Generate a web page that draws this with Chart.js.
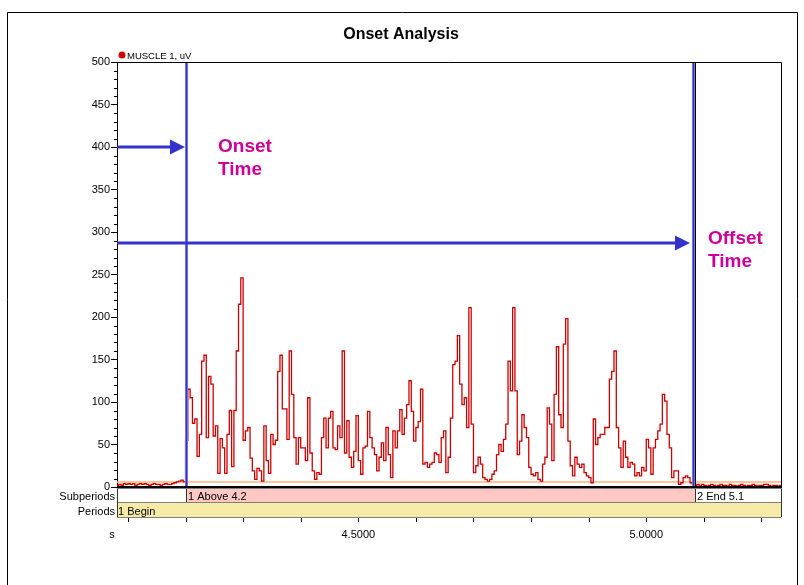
<!DOCTYPE html>
<html><head><meta charset="utf-8">
<script src="https://cdn.jsdelivr.net/npm/chart.js@4/dist/chart.umd.min.js"></script>
<style>html,body{margin:0;padding:0;background:#fff}#wrap{width:804px;height:585px;position:relative}</style>
</head><body><div id="wrap"><canvas id="c" width="804" height="585"></canvas></div>
<script>
const chartTitle = 'Onset Analysis';
const seriesName = 'MUSCLE 1, uV';
const startTime = 4.080;
const sampleStep = 0.004;
const emgValues = [
  2,3,2,4,3,4,3,4,2,3,4,3,4,3,2,3,4,3,3,2,3,4,3,3,4,5,6,7,8,6,
  55,115,105,75,80,36,62,148,155,58,130,121,60,72,16,57,46,16,62,90,
  24,90,160,215,246,55,66,70,34,19,9,22,19,7,72,31,16,62,50,55,
  136,155,92,92,56,160,109,58,27,58,46,46,31,105,40,19,9,17,15,58,
  81,46,81,89,46,44,72,58,160,40,78,35,23,42,84,31,15,46,48,89,
  58,46,38,19,35,52,31,70,38,11,66,46,66,91,62,81,97,125,89,54,
  70,77,115,27,29,23,27,29,40,38,29,58,66,17,35,81,144,148,178,121,
  97,105,70,211,74,17,25,35,27,11,9,7,9,15,19,38,50,42,56,74,
  148,113,211,113,38,54,85,70,58,23,15,13,17,9,7,27,35,93,74,31,
  109,165,85,70,168,198,54,25,13,35,27,23,27,17,13,11,5,80,50,58,
  62,62,70,70,127,136,160,70,46,23,54,35,23,29,27,13,17,13,23,19,
  56,46,15,46,56,66,74,109,101,62,46,11,19,19,3,5,11,13,11,5,
  3,2,3,1,3,2,1,2,3,2,1,2,3,2,2,1,3,2,2,1,2,3,2,1,2,2,3,2,1,2,
  2,3,3,2,1,2,2,1,2,2
];
const thresholdValue = 6;
const onsetTime = 4.2;
const offsetTime = 5.081;
const onsetArrowLevel = 400;
const offsetArrowLevel = 287;
const xMin = 4.081;
const xMax = 5.234;
const yMin = 0, yMax = 500, yStep = 50, yMinorStep = 10;
const xTickValues = [4.1,4.2,4.3,4.4,4.5,4.6,4.7,4.8,4.9,5.0,5.1,5.2];
const xLabelValues = [4.5, 5.0];
const xUnit = 's';
const subperiodLabels = ['1 Above 4.2', '2 End 5.1'];
const periodLabels = ['1 Begin'];
const onsetText = ['Onset', 'Time'];
const offsetText = ['Offset', 'Time'];

const points = emgValues.map((v, i) => ({ x: startTime + i * sampleStep, y: v }));
const thresholdLine = [{ x: xMin, y: thresholdValue }, { x: xMax, y: thresholdValue }];

const BLUE = '#3333CC', MAG = '#CC0099', RED = '#CC0000';

const deco = {
  id: 'deco',
  beforeDraw(chart) {
    const c = chart.ctx;
    c.save();
    c.fillStyle = '#fff';
    c.fillRect(0, 0, chart.width, chart.height);
    c.strokeStyle = '#000'; c.lineWidth = 1;
    c.beginPath();
    c.moveTo(7.5, 600); c.lineTo(7.5, 12.5); c.lineTo(797.5, 12.5); c.lineTo(797.5, 600);
    c.stroke();
    c.restore();
  },
  afterDatasetsDraw(chart) {
    const c = chart.ctx, a = chart.chartArea;
    const xs = chart.scales.x, ys = chart.scales.y;
    const on = Math.round(xs.getPixelForValue(onsetTime));
    const off = Math.round(xs.getPixelForValue(offsetTime));
    c.save();
    [on, off].forEach(px => {
      c.fillStyle = '#B4B4EE';
      c.fillRect(px - 1, a.top, 3, a.bottom - a.top);
      c.fillStyle = BLUE;
      c.fillRect(px - 0.5, a.top, 2, a.bottom - a.top);
    });
    c.fillStyle = '#000';
    c.fillRect(off + 2, a.top, 1, a.bottom - a.top);
    const arrow = (x0, x1, y) => {
      c.strokeStyle = BLUE; c.fillStyle = BLUE; c.lineWidth = 3;
      c.beginPath(); c.moveTo(x0, y); c.lineTo(x1 - 12, y); c.stroke();
      c.beginPath(); c.moveTo(x1, y); c.lineTo(x1 - 15, y - 7.5); c.lineTo(x1 - 15, y + 7.5); c.closePath(); c.fill();
    };
    arrow(a.left, on - 1, ys.getPixelForValue(onsetArrowLevel));
    arrow(a.left, off - 3, ys.getPixelForValue(offsetArrowLevel));
    c.fillStyle = MAG; c.font = 'bold 19px Arial, "Liberation Sans", sans-serif';
    c.textAlign = 'left'; c.textBaseline = 'alphabetic';
    c.fillText(onsetText[0], on + 32, 152);
    c.fillText(onsetText[1], on + 32, 175);
    c.fillText(offsetText[0], off + 15, 244);
    c.fillText(offsetText[1], off + 15, 267);
    c.restore();
  },
  afterDraw(chart) {
    const c = chart.ctx, a = chart.chartArea;
    const xs = chart.scales.x, ys = chart.scales.y;
    const on = Math.round(xs.getPixelForValue(onsetTime));
    const off = Math.round(xs.getPixelForValue(offsetTime));
    c.save();
    c.strokeStyle = '#000'; c.lineWidth = 1;
    c.beginPath();
    c.moveTo(a.left, a.top + 0.5); c.lineTo(a.right + 0.5, a.top + 0.5); c.lineTo(a.right + 0.5, a.bottom);
    c.stroke();
    c.fillStyle = '#000';
    c.fillRect(a.left, a.bottom - 1, a.right - a.left + 1, 2.5);
    c.beginPath();
    for (let v = yMin; v <= yMax; v += yMinorStep) {
      if (v % yStep === 0) continue;
      const y = Math.round(ys.getPixelForValue(v)) + 0.5;
      c.moveTo(a.left - 3, y); c.lineTo(a.left, y);
    }
    c.stroke();
    const sTop = a.bottom + 2, sH = 13, pTop = a.bottom + 16, pH = 14;
    c.fillStyle = '#fff'; c.fillRect(a.left, sTop, a.right - a.left, sH);
    c.fillStyle = '#FFC8C3'; c.fillRect(on, sTop, off + 2 - on, sH);
    c.fillStyle = '#F6EBA6'; c.fillRect(a.left, pTop, a.right - a.left, pH);
    c.strokeStyle = '#808080';
    c.beginPath();
    c.moveTo(a.left, sTop + sH + 0.5); c.lineTo(a.right, sTop + sH + 0.5);
    c.moveTo(a.left, pTop + pH + 0.5); c.lineTo(a.right, pTop + pH + 0.5);
    c.stroke();
    c.strokeStyle = '#333';
    c.beginPath();
    c.moveTo(a.left + 0.5, sTop); c.lineTo(a.left + 0.5, pTop + pH);
    c.moveTo(a.right + 0.5, sTop); c.lineTo(a.right + 0.5, pTop + pH);
    c.moveTo(on + 0.5, sTop); c.lineTo(on + 0.5, sTop + sH);
    c.moveTo(off + 2.5, sTop); c.lineTo(off + 2.5, sTop + sH);
    c.stroke();
    c.fillStyle = '#000';
    c.font = '11px Arial, "Liberation Sans", sans-serif';
    c.textBaseline = 'alphabetic';
    c.textAlign = 'left';
    c.fillText(subperiodLabels[0], on + 2, sTop + 11);
    c.fillText(subperiodLabels[1], off + 4, sTop + 11);
    c.fillText(periodLabels[0], a.left + 1, pTop + 12);
    c.textAlign = 'right';
    c.fillText('Subperiods', a.left - 2, sTop + 11);
    c.fillText('Periods', a.left - 2, pTop + 12);
    const tY = pTop + pH + 1;
    c.strokeStyle = '#000';
    c.beginPath();
    xTickValues.forEach(t => {
      const x = Math.round(xs.getPixelForValue(t)) + 0.5;
      c.moveTo(x, tY); c.lineTo(x, tY + 4);
    });
    c.stroke();
    c.textAlign = 'center';
    xLabelValues.forEach(t => c.fillText(t.toFixed(4), xs.getPixelForValue(t), tY + 20));
    c.fillText(xUnit, a.left - 5, tY + 20);
    c.font = 'bold 16px Arial, "Liberation Sans", sans-serif';
    c.fillText(chartTitle, 401, 39);
    c.fillStyle = RED;
    c.beginPath(); c.arc(122, 55, 3.5, 0, Math.PI * 2); c.fill();
    c.fillStyle = '#000';
    c.font = '9.5px Arial, "Liberation Sans", sans-serif';
    c.textAlign = 'left';
    c.fillText(seriesName, 127, 59);
    c.restore();
  }
};

new Chart(document.getElementById('c'), {
  type: 'line',
  data: {
    datasets: [
      { label: seriesName, data: points, borderColor: RED, borderWidth: 1.3, pointRadius: 0, stepped: true, order: 1 },
      { label: 'threshold', data: thresholdLine, borderColor: '#FFB27A', borderWidth: 1.5, pointRadius: 0, order: 2 }
    ]
  },
  options: {
    responsive: false,
    animation: false,
    devicePixelRatio: 1,
    layout: { padding: { left: 0, top: 62, right: 23, bottom: 98 } },
    plugins: { legend: { display: false }, tooltip: { enabled: false }, title: { display: false } },
    scales: {
      x: { type: 'linear', min: xMin, max: xMax, display: false },
      y: {
        min: yMin, max: yMax,
        ticks: { stepSize: yStep, color: '#000', padding: 1, font: { family: 'Arial', size: 11 } },
        grid: { drawOnChartArea: false, tickLength: 6, color: '#000' },
        border: { color: '#000' },
        afterFit(s) { s.width = 117; }
      }
    }
  },
  plugins: [deco]
});
</script>
</body></html>
